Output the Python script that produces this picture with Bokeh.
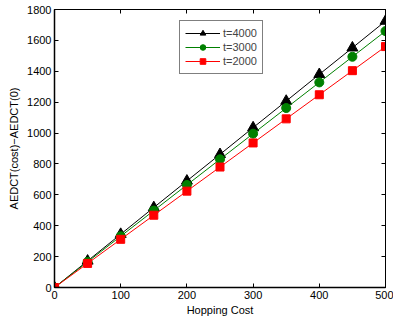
from bokeh.plotting import figure
from bokeh.models import Range1d, LinearAxis, FixedTicker, Legend, LegendItem
from bokeh.embed import file_html
from bokeh.resources import INLINE

cost = [0, 50, 100, 150, 200, 250, 300, 350, 400, 450, 500]
t4000 = [0, 172, 345, 518, 690, 862, 1035, 1207, 1380, 1552, 1725]
t3000 = [0, 166, 332, 498, 664, 830, 996, 1162, 1328, 1494, 1660]
t2000 = [0, 156, 312, 468, 624, 780, 936, 1092, 1248, 1404, 1560]
xticks = [0, 100, 200, 300, 400, 500]
yticks = [0, 200, 400, 600, 800, 1000, 1200, 1400, 1600, 1800]

FONT = "Liberation Sans"

p = figure(width=393, height=320, output_backend="svg", toolbar_location=None,
           x_range=Range1d(0, 500), y_range=Range1d(0, 1800),
           min_border_left=54, min_border_right=8, min_border_top=9, min_border_bottom=33)
p.grid.visible = False
p.outline_line_color = "black"
p.outline_line_width = 1
p.background_fill_color = "white"
p.border_fill_color = "white"

for ax in [p.xaxis[0], p.yaxis[0]]:
    ax.major_label_text_font = FONT
    ax.major_label_text_font_size = "11px"
    ax.major_label_text_color = "black"
    ax.axis_label_text_font = FONT
    ax.axis_label_text_font_size = "11px"
    ax.axis_label_text_font_style = "normal"
    ax.axis_label_text_color = "black"
    ax.major_tick_in = 4
    ax.major_tick_out = 0
    ax.minor_tick_in = 0
    ax.minor_tick_out = 0
    ax.axis_line_color = "black"
    ax.axis_line_width = 1.5
    ax.major_label_standoff = 3

p.xaxis[0].ticker = FixedTicker(ticks=xticks)
p.yaxis[0].ticker = FixedTicker(ticks=yticks)
p.xaxis[0].axis_label = "Hopping Cost"
p.yaxis[0].axis_label = "AEDCT(cost)\u2212AEDCT(0)"
p.xaxis[0].axis_label_standoff = 2
p.yaxis[0].axis_label_standoff = 4

top = LinearAxis(ticker=FixedTicker(ticks=xticks),
                 major_label_overrides={t: "" for t in xticks},
                 major_tick_in=4, major_tick_out=0, minor_tick_in=0, minor_tick_out=0,
                 axis_line_color="black", major_label_standoff=0)
right = LinearAxis(ticker=FixedTicker(ticks=yticks),
                   major_label_overrides={t: "" for t in yticks},
                   major_tick_in=4, major_tick_out=0, minor_tick_in=0, minor_tick_out=0,
                   axis_line_color="black", major_label_standoff=0)
p.add_layout(top, "above")
p.add_layout(right, "right")

l4 = p.line(cost, t4000, line_color="black", line_width=1)
m4 = p.scatter(cost, t4000, marker="triangle", size=11, fill_color="black", line_color="black")
l3 = p.line(cost, t3000, line_color="green", line_width=1)
m3 = p.scatter(cost, t3000, marker="circle", size=9, fill_color="green", line_color="green")
l2 = p.line(cost, t2000, line_color="red", line_width=1)
m2 = p.scatter(cost, t2000, marker="square", size=8, fill_color="red", line_color="red")

legend = Legend(items=[
    LegendItem(label="t=4000", renderers=[l4, m4]),
    LegendItem(label="t=3000", renderers=[l3, m3]),
    LegendItem(label="t=2000", renderers=[l2, m2]),
], location=(125, 213))
legend.label_text_font = FONT
legend.label_text_font_size = "11px"
legend.border_line_color = "black"
legend.border_line_width = 1
legend.padding = 5
legend.spacing = 0
legend.margin = 0
legend.glyph_width = 35
legend.glyph_height = 14
legend.label_height = 14
legend.label_standoff = 3
legend.background_fill_alpha = 1
p.add_layout(legend, "center")

open("out.html", "w").write(file_html(p, INLINE))
